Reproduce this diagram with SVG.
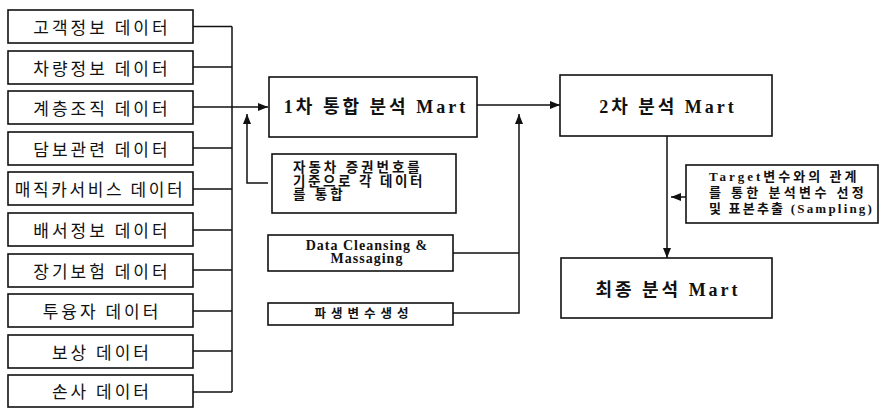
<svg xmlns="http://www.w3.org/2000/svg" width="880" height="409" viewBox="0 0 880 409">
<defs>
<style>
.box{fill:#fff;stroke:#111;stroke-width:1.6}
.ln{fill:none;stroke:#111;stroke-width:1.5}
.src{font-family:"Noto Sans CJK KR","Noto Sans",sans-serif;font-size:17px;letter-spacing:3px;fill:#111;text-anchor:middle}
.mart{font-family:"Liberation Serif","Noto Sans CJK KR",serif;font-size:18px;font-weight:bold;letter-spacing:3px;fill:#111;text-anchor:middle}
.note{font-family:"Liberation Serif","Noto Sans CJK KR",serif;font-size:13.5px;font-weight:bold;letter-spacing:3px;fill:#111}
</style>
<marker id="ah" viewBox="0 0 10 8" refX="10" refY="4" markerWidth="10" markerHeight="8" markerUnits="userSpaceOnUse" orient="auto">
<path d="M0,0 L10,4 L0,8 z" fill="#111"/>
</marker>
</defs>
<rect width="880" height="409" fill="#fff"/>

<g id="connectors">
<path class="ln" d="M193,26.5H232M193,67H232M193,148H232M193,189H232M193,230H232M193,270H232M193,311H232M193,351H232M193,392H232M232,26.5V392"/>
<path class="ln" d="M193,107H268" marker-end="url(#ah)"/>
<path class="ln" d="M268,183H247V114" marker-end="url(#ah)"/>
<path class="ln" d="M453,253H519M453,313H519V114" marker-end="url(#ah)"/>
<path class="ln" d="M477,105H560" marker-end="url(#ah)"/>
<path class="ln" d="M667,136V258" marker-end="url(#ah)"/>
<path class="ln" d="M686,197H671" marker-end="url(#ah)"/>
</g>

<g id="src1"><rect class="box" x="8" y="10" width="185" height="33"/><text class="src" x="102" y="33.5">고객정보 데이터</text></g>
<g id="src2"><rect class="box" x="8" y="51" width="185" height="33"/><text class="src" x="102" y="74.5">차량정보 데이터</text></g>
<g id="src3"><rect class="box" x="8" y="91" width="185" height="33"/><text class="src" x="102" y="114.5">계층조직 데이터</text></g>
<g id="src4"><rect class="box" x="8" y="132" width="185" height="33"/><text class="src" x="102" y="155.5">담보관련 데이터</text></g>
<g id="src5"><rect class="box" x="8" y="172" width="185" height="33"/><text class="src" x="100" y="195.5" style="letter-spacing:2.6px">매직카서비스 데이터</text></g>
<g id="src6"><rect class="box" x="8" y="213" width="185" height="33"/><text class="src" x="102" y="236.5">배서정보 데이터</text></g>
<g id="src7"><rect class="box" x="8" y="254" width="185" height="33"/><text class="src" x="102" y="277.5">장기보험 데이터</text></g>
<g id="src8"><rect class="box" x="8" y="294" width="185" height="33"/><text class="src" x="102" y="317.5">투융자 데이터</text></g>
<g id="src9"><rect class="box" x="8" y="335" width="185" height="33"/><text class="src" x="102" y="358.5">보상 데이터</text></g>
<g id="src10"><rect class="box" x="8" y="375" width="185" height="32"/><text class="src" x="102" y="398">손사 데이터</text></g>

<g id="mart1"><rect class="box" x="269" y="77" width="208" height="60"/><text class="mart" x="376" y="113">1차 통합 분석 Mart</text></g>
<g id="note1"><rect class="box" x="272" y="154" width="184" height="59"/>
<text class="note" x="293" y="172">자동차 증권번호를</text>
<text class="note" x="293" y="185.5" style="letter-spacing:2.6px">기준으로 각 데이터</text>
<text class="note" x="293" y="199">를 통합</text></g>
<g id="cleansing"><rect class="box" x="268" y="235" width="185" height="36"/>
<text class="note" x="367" y="249.5" text-anchor="middle" style="font-size:14px;letter-spacing:1px">Data Cleansing &amp;</text>
<text class="note" x="367" y="263" text-anchor="middle" style="font-size:14px;letter-spacing:1px">Massaging</text></g>
<g id="derive"><rect class="box" x="268" y="303" width="185" height="22"/><text class="note" x="364" y="318" text-anchor="middle" style="font-size:12.5px;letter-spacing:5px">파생변수생성</text></g>

<g id="mart2"><rect class="box" x="560" y="75" width="212" height="61"/><text class="mart" x="668" y="113">2차 분석 Mart</text></g>
<g id="note2"><rect class="box" x="686" y="165" width="192" height="58"/>
<text class="note" x="709" y="181" style="font-size:13px;letter-spacing:3px">Target변수와의 관계</text>
<text class="note" x="709" y="197" style="font-size:13px;letter-spacing:3.4px">를 통한 분석변수 선정</text>
<text class="note" x="709" y="213" style="font-size:13px;letter-spacing:2.2px">및 표본추출 (Sampling)</text></g>
<g id="martFinal"><rect class="box" x="561" y="258" width="211" height="60"/><text class="mart" x="668" y="296">최종 분석 Mart</text></g>
</svg>
